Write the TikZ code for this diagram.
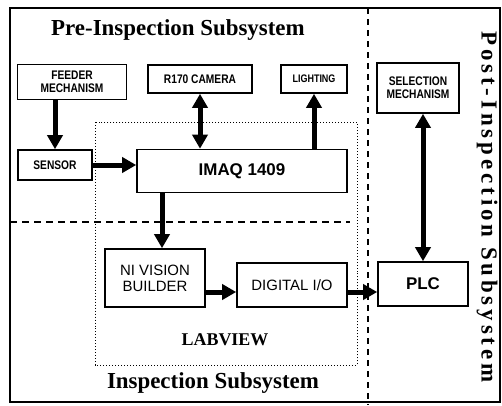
\documentclass[tikz,border=0pt]{standalone}
\usepackage{fontspec}
\setmainfont{Liberation Serif}
\setsansfont{Liberation Sans}
\newfontfamily\narrowfont[FakeStretch=0.82]{Liberation Sans}
\usetikzlibrary{positioning,arrows.meta,calc}

\begin{document}
\begin{tikzpicture}[
    x=1bp, y=-1bp,
    box/.style={draw, line width=1.6bp, inner sep=1pt, align=center, font=\narrowfont\bfseries\fontsize{12.5}{13}\selectfont},
    bigbox/.style={box, font=\sffamily\fontsize{15}{16}\selectfont},
    arr/.style={-{Triangle[length=14bp,width=15bp]}, line width=5bp},
    dblarr/.style={{Triangle[length=14bp,width=15bp]}-{Triangle[length=14bp,width=15bp]}, line width=5bp},
    title/.style={font=\bfseries\fontsize{23}{24}\selectfont}
  ]
    \useasboundingbox (0,0) rectangle (502,405);

    % frame and subsystem borders
    \draw[line width=2bp] (10,8) rectangle (500,402);
    \draw[dashed, line width=1.6bp, dash pattern=on 6bp off 5bp] (368,8) -- (368,405);
    \draw[dashed, line width=1.4bp, dash pattern=on 7bp off 5bp] (10,222) -- (350,222);
    \draw[dotted, line width=1bp] (95,122) rectangle (357,365);

    % titles
    \node[title] (pretitle) at (178,30) {Pre-Inspection Subsystem};
    \node[title] (intitle) at (213,383) {Inspection Subsystem};
    \node[title, rotate=-90] (posttitle) at (487,207) {\addfontfeatures{LetterSpace=17}Post-Inspection Subsystem};
    \node[font=\bfseries\fontsize{18}{19}\selectfont] (labview) at (225,340) {LABVIEW};

    % boxes
    \node[box, minimum width=109bp, minimum height=35bp] (feeder) at (72,82) {FEEDER\\MECHANISM};
    \node[box, minimum width=104bp, minimum height=28bp] (camera) at (200,79) {R170 CAMERA};
    \node[box, minimum width=66bp, minimum height=28bp, font=\narrowfont\bfseries\fontsize{11}{12}\selectfont] (lighting) at (314,79) {LIGHTING};
    \node[box, minimum width=74bp, minimum height=30bp] (sensor) at (55,165) {SENSOR};
    \node[box, minimum width=210bp, minimum height=43bp, font=\sffamily\bfseries\fontsize{17}{18}\selectfont] (imaq) at (242,171) {IMAQ 1409};
    \node[bigbox, minimum width=100bp, minimum height=58bp] (nivision) at (155,278) {NI VISION\\BUILDER};
    \node[bigbox, minimum width=110bp, minimum height=44bp] (digital) at (292,285) {DIGITAL I/O};
    \node[box, minimum width=82bp, minimum height=50bp] (selection) at (418,88) {SELECTION\\MECHANISM};
    \node[box, minimum width=90bp, minimum height=44bp, font=\sffamily\bfseries\fontsize{17}{18}\selectfont] (plc) at (423,284) {PLC};

    % connectors
    \draw[arr] (feeder.south -| sensor.north) -- (sensor.north);
    \draw[arr] (sensor.east) -- (sensor.east -| imaq.west);
    \draw[dblarr] (camera.south) -- (camera.south |- imaq.north);
    \draw[arr] (lighting.south |- imaq.north) -- (lighting.south);
    \draw[arr] ([xshift=7bp]imaq.south -| nivision.north) -- ([xshift=7bp]nivision.north);
    \draw[arr] ([yshift=-7bp]digital.west -| nivision.east) -- ([yshift=-7bp]digital.west);
    \draw[arr] ([yshift=-7bp]digital.east) -- ([yshift=-7bp]digital.east -| plc.west);
    \draw[dblarr] (selection.south -| plc.north) -- (plc.north);
\end{tikzpicture}
\end{document}
